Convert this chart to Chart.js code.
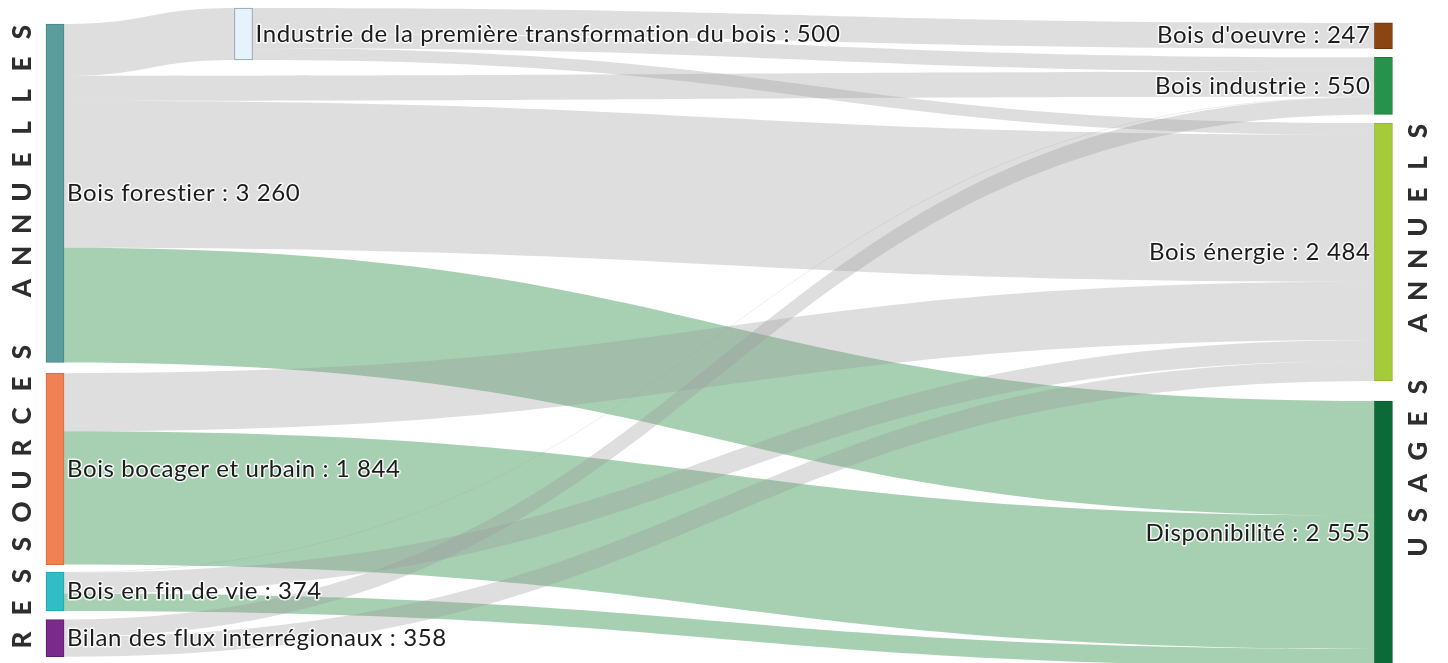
<!DOCTYPE html>
<html>
<head>
<meta charset="utf-8">
<script src="https://cdn.jsdelivr.net/npm/chart.js@4.4.1/dist/chart.umd.min.js"></script>
<style>
html, body { margin: 0; padding: 0; background: #fff; }
</style>
</head>
<body>
<canvas id="sankey" width="1448" height="663"></canvas>
<script>
// --- data ---
var nodeNames = [
    'Bois forestier',
    'Bois bocager et urbain',
    'Bois en fin de vie',
    'Bilan des flux interrégionaux',
    'Industrie de la première transformation du bois',
    "Bois d'oeuvre",
    'Bois industrie',
    'Bois énergie',
    'Disponibilité'
];
var nodeColumns = [0, 0, 0, 0, 1, 2, 2, 2, 2];

var linkSources = [0, 0, 0, 0, 4, 4, 4, 1, 1, 2, 2, 2, 3, 3];
var linkTargets = [4, 6, 7, 8, 5, 6, 7, 7, 8, 6, 7, 8, 6, 7];
var linkValues = [500, 240, 1416, 1104, 247, 140, 113, 560, 1284, 5, 202, 167, 165, 193];

var sideTitles = ['RESSOURCES ANNUELLES', 'USAGES ANNUELS'];

// --- styles ---
var nodeColors = ['#5b9c9c', '#f08155', '#32bcc6', '#792a8a', '#e6f3fb', '#8b4513', '#27934a', '#a5cb38', '#0b6a37'];
var nodeBorders = ['#4a8585', '#d86a40', '#22a4ad', '#5f1f6e', '#8a9aa8', '#6f360f', '#1e7a3c', '#8fb22c', '#085a2e'];
var linkGrey = 'rgba(156, 156, 156, 0.33)';
var linkGreen = 'rgba(79, 161, 101, 0.5)';

// --- layout ---
var columnX = [0, 0.1419, 1];
var columnTop = [0, -154, -10];
var nodePad = 84;
var extraPad = { 1: 20, 2: -12, 8: 110 };
var nodeWidth = 18;

var nodeValues = nodeNames.map(function (n, i) {
    var vin = 0, vout = 0;
    for (var k = 0; k < linkValues.length; k++) {
        if (linkSources[k] === i) vout += linkValues[k];
        if (linkTargets[k] === i) vin += linkValues[k];
    }
    return Math.max(vin, vout);
});

var nodeY0 = [], nodeY1 = [];
var colCursor = columnTop.slice();
nodeNames.forEach(function (n, i) {
    var c = nodeColumns[i];
    var y = colCursor[c] + (extraPad[i] || 0);
    nodeY0[i] = y;
    nodeY1[i] = y + nodeValues[i];
    colCursor[c] = nodeY1[i] + nodePad;
});

// link stacking: outflows sorted by target position, inflows by source position
var linkSy = [], linkTy = [];
nodeNames.forEach(function (n, i) {
    var outs = [], ins = [];
    for (var k = 0; k < linkValues.length; k++) {
        if (linkSources[k] === i) outs.push(k);
        if (linkTargets[k] === i) ins.push(k);
    }
    outs.sort(function (a, b) { return nodeY0[linkTargets[a]] - nodeY0[linkTargets[b]]; });
    ins.sort(function (a, b) { return nodeY0[linkSources[a]] - nodeY0[linkSources[b]]; });
    var y = nodeY0[i];
    outs.forEach(function (k) { linkSy[k] = y; y += linkValues[k]; });
    y = nodeY0[i];
    ins.forEach(function (k) { linkTy[k] = y; y += linkValues[k]; });
});

function fmt(v) {
    return String(v).replace(/\B(?=(\d{3})+(?!\d))/g, ' ');
}

var nodeBars = nodeNames.map(function (n, i) {
    return { x: columnX[nodeColumns[i]], y: [nodeY0[i], nodeY1[i]] };
});

var linksPlugin = {
    id: 'sankeyLinks',
    beforeDatasetsDraw: function (chart) {
        var ctx = chart.ctx, xs = chart.scales.x, ys = chart.scales.y;
        ctx.save();
        for (var k = 0; k < linkValues.length; k++) {
            var s = linkSources[k], t = linkTargets[k];
            var x0 = xs.getPixelForValue(columnX[nodeColumns[s]]) + nodeWidth / 2;
            var x1 = xs.getPixelForValue(columnX[nodeColumns[t]]) - nodeWidth / 2;
            var xm = (x0 + x1) / 2;
            var sa = ys.getPixelForValue(linkSy[k]), sb = ys.getPixelForValue(linkSy[k] + linkValues[k]);
            var ta = ys.getPixelForValue(linkTy[k]), tb = ys.getPixelForValue(linkTy[k] + linkValues[k]);
            ctx.beginPath();
            ctx.moveTo(x0, sa);
            ctx.bezierCurveTo(xm, sa, xm, ta, x1, ta);
            ctx.lineTo(x1, tb);
            ctx.bezierCurveTo(xm, tb, xm, sb, x0, sb);
            ctx.closePath();
            ctx.fillStyle = t === 8 ? linkGreen : linkGrey;
            ctx.fill();
        }
        ctx.restore();
    }
};

var labelsPlugin = {
    id: 'sankeyLabels',
    afterDatasetsDraw: function (chart) {
        var ctx = chart.ctx, xs = chart.scales.x, ys = chart.scales.y;
        ctx.save();
        ctx.font = '24px Lato';
        ctx.letterSpacing = '0.6px';
        ctx.textBaseline = 'middle';
        ctx.lineJoin = 'round';
        nodeNames.forEach(function (n, i) {
            var c = nodeColumns[i];
            var xc = xs.getPixelForValue(columnX[c]);
            var yc = ys.getPixelForValue((nodeY0[i] + nodeY1[i]) / 2);
            var text = n + ' : ' + fmt(nodeValues[i]);
            var x;
            if (c === 2) {
                ctx.textAlign = 'right';
                x = xc - nodeWidth / 2 - 4;
            } else {
                ctx.textAlign = 'left';
                x = xc + nodeWidth / 2 + 3;
            }
            ctx.strokeStyle = 'rgba(255,255,255,0.85)';
            ctx.lineWidth = 3;
            ctx.strokeText(text, x, yc);
            ctx.fillStyle = '#1c1c1c';
            ctx.fillText(text, x, yc);
        });

        // spaced side titles, read bottom to top
        ctx.letterSpacing = '0px';
        ctx.font = '900 26px Lato';
        ctx.fillStyle = '#2e2e2e';
        ctx.textAlign = 'center';
        var titleSpots = [{ x: 23, y: 640 }, { x: 1419, y: 547 }];
        sideTitles.forEach(function (title, j) {
            for (var q = 0; q < title.length; q++) {
                ctx.save();
                ctx.translate(titleSpots[j].x, titleSpots[j].y - q * 32);
                ctx.rotate(-Math.PI / 2);
                ctx.fillText(title[q], 0, 0);
                ctx.restore();
            }
        });
        ctx.restore();
    }
};

new Chart(document.getElementById('sankey'), {
    type: 'bar',
    data: {
        datasets: [{
            data: nodeBars,
            backgroundColor: nodeColors,
            borderColor: nodeBorders,
            borderWidth: 1,
            borderSkipped: false,
            barThickness: nodeWidth
        }]
    },
    options: {
        responsive: false,
        animation: false,
        layout: { padding: 0 },
        plugins: {
            legend: { display: false },
            tooltip: { enabled: false }
        },
        scales: {
            x: { type: 'linear', min: -0.0414, max: 1.0486, offset: false, display: false },
            y: { type: 'linear', reverse: true, min: -231, max: 6156, display: false }
        }
    },
    plugins: [linksPlugin, labelsPlugin]
});
</script>
</body>
</html>
